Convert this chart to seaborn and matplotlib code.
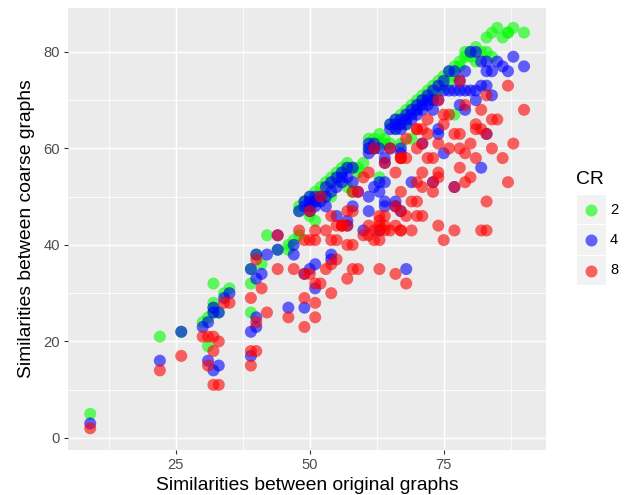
import matplotlib
matplotlib.use("Agg")
import matplotlib.pyplot as plt
from matplotlib.lines import Line2D
from matplotlib.patches import Rectangle
from matplotlib.ticker import FixedLocator
import pandas as pd
import seaborn as sns

cr_levels = ["2", "4", "8"]
palette = ["#00FF00", "#0000FF", "#FF0000"]

green_pts = [(9,5),(22,21),(26,22),(30,24),(31,25),(31,19),(32,32),(32,28),(32,27),(32,26),(33,26),(34,30),(35,31),(39,35),(39,32),(39,26),
 (40,38),(41,36),(42,42),(44,39),(46,39),(46,40),(47,41),(48,48),(48,42),(48,47),(49,49),(50,50),(50,46),(50,48),(51,51),(51,45),(51,49),(52,52),(52,50),(53,53),(53,50),
 (54,54),(54,50),(55,55),(55,53),(56,56),(56,55),(57,57),(57,56),(57,52),(58,56),(58,51),(59,56),(59,55),(60,57),(61,62),(61,60),(62,62),(62,60),(63,63),(63,61),(63,54),
 (64,62),(64,61),(65,65),(65,61),(66,66),(66,64),(67,67),(67,61),(68,68),(68,65),(69,69),(69,62),(70,70),(70,68),(71,71),(71,70),(72,72),(72,70),(73,73),(73,71),(74,74),(74,72),(75,75),(75,73),
 (76,76),(76,74),(77,77),(77,67),(77,75),(78,78),(78,77),(79,79),(79,80),(80,80),(80,79),(81,81),(81,78),(82,80),(83,83),(83,80),(84,84),(84,79),(85,85),(86,83),(87,84),(87,84),(88,85),(90,84)]

blue_pts = [(9,3),(22,16),(26,22),(30,23),(31,24),(31,16),(32,27),(32,26),(32,14),(33,26),(33,15),(34,29),(35,30),(39,35),(39,22),(39,17),(40,38),(40,33),(40,25),(40,23),(41,34),(42,38),(44,39),(44,42),(46,27),(47,40),(47,38),
 (48,47),(49,48),(49,49),(49,34),(49,27),(50,49),(50,50),(50,48),(50,35),(50,47),(51,50),(51,49),(51,48),(51,36),(51,31),(52,50),(52,49),(53,52),(53,50),(53,48),(54,53),(54,51),(54,38),(54,37),(55,54),(55,52),(55,46),
 (56,55),(56,54),(56,53),(57,56),(57,54),(57,45),(57,44),(58,56),(58,53),(58,48),(59,51),(60,43),(61,61),(61,60),(61,59),(61,50),(61,47),(62,52),(62,61),(62,60),(63,60),(63,53),(63,51),(63,43),(64,58),(64,57),(64,49),(64,48),(64,53),
 (65,65),(65,64),(65,60),(66,66),(66,65),(66,64),(66,49),(66,48),(67,66),(67,65),(67,64),(67,60),(67,59),(67,47),(68,67),(68,66),(68,65),(68,35),(69,68),(69,67),(69,66),(69,53),(70,69),(70,68),(70,67),(71,70),(71,69),(71,68),(71,61),(72,71),(72,70),(72,69),(73,72),(73,70),(73,68),(73,53),
 (74,73),(74,70),(74,64),(74,63),(75,59),(75,72),(75,74),(76,76),(76,72),(77,76),(77,72),(77,52),(78,74),(78,72),(78,69),(79,76),(79,72),(79,68),(80,80),(80,72),(81,80),(81,72),(81,70),(82,78),(82,73),(82,56),
 (83,78),(83,76),(83,73),(83,63),(84,76),(84,71),(85,78),(86,77),(87,76),(88,79),(90,77)]

red_pts = [(9,2),(22,14),(26,17),(30,21),(31,21),(31,15),(32,21),(32,18),(32,11),(33,20),(33,11),(34,28),(35,28),(39,29),(39,18),(39,15),(40,37),(40,24),(40,18),(41,31),(42,26),(44,35),(44,42),(46,25),(47,35),(48,43),
 (49,41),(49,34),(49,29),(49,23),(50,47),(50,41),(50,34),(51,43),(51,41),(51,32),(51,28),(51,25),(52,50),(52,32),(53,43),(53,35),(54,46),(54,41),(54,36),(54,30),(55,44),(55,41),(55,37),(56,44),(56,44),(56,44),(57,47),(57,44),(57,40),(57,33),
 (58,51),(58,47),(58,40),(58,35),(59,51),(59,35),(60,54),(60,42),(61,55),(61,44),(61,42),(62,60),(62,43),(62,41),(63,46),(63,45),(63,44),(63,43),(63,41),(63,35),(64,57),(64,46),(64,44),(64,43),(65,60),(65,43),
 (66,55),(66,48),(66,44),(66,34),(67,58),(67,58),(67,58),(67,51),(67,47),(67,43),(67,43),(68,62),(68,58),(68,46),(68,32),(69,49),(69,43),(70,64),(70,64),(70,60),(70,53),(70,49),(70,46),(71,64),(71,61),(71,55),(71,52),(71,46),
 (72,66),(72,63),(72,58),(73,58),(73,53),(73,51),(74,70),(74,61),(74,55),(74,54),(74,44),(75,67),(75,65),(75,41),(76,67),(76,60),(77,63),(77,52),(77,43),(78,74),(78,63),(78,60),(78,56),(79,69),(79,59),(79,53),(80,61),(80,54),
 (81,65),(81,64),(81,58),(82,68),(82,64),(82,43),(83,71),(83,63),(83,49),(83,43),(84,66),(84,60),(85,66),(86,58),(87,73),(87,53),(88,61),(90,68)]

x_label = "Similarities between original graphs"
y_label = "Similarities between coarse graphs"
x_ticks = [25, 50, 75]
y_ticks = [0, 20, 40, 60, 80]
x_minor = [12.5, 37.5, 62.5, 87.5]
y_minor = [10, 30, 50, 70]

frames = []
for level, pts in zip(cr_levels, [green_pts, blue_pts, red_pts]):
    frames.append(pd.DataFrame(pts, columns=["orig", "coarse"]).assign(CR=level))
df = pd.concat(frames, ignore_index=True)

W, H = 633, 495
L, R, T, B = 68, 546, 8, 450
plt.rcParams["font.family"] = ["Liberation Sans", "DejaVu Sans"]
fig = plt.figure(figsize=(W / 100, H / 100), dpi=100, facecolor="white")
ax = fig.add_axes([L / W, 1 - B / H, (R - L) / W, (B - T) / H], facecolor="#EBEBEB")

sns.scatterplot(data=df, x="orig", y="coarse", hue="CR", hue_order=cr_levels, palette=palette,
                s=75, alpha=0.6, linewidth=0, legend=False, ax=ax, zorder=3)

ax.set_xlim(4.85, 94.1)
ax.set_ylim(-2.5, 89.1)
ax.xaxis.set_major_locator(FixedLocator(x_ticks))
ax.yaxis.set_major_locator(FixedLocator(y_ticks))
ax.xaxis.set_minor_locator(FixedLocator(x_minor))
ax.yaxis.set_minor_locator(FixedLocator(y_minor))
ax.grid(True, which="major", color="white", linewidth=1.05, zorder=1)
ax.grid(True, which="minor", color="white", linewidth=0.55, zorder=1)
ax.set_axisbelow(True)
for s in ax.spines.values():
    s.set_visible(False)
ax.tick_params(which="major", length=3.2, width=0.8, color="#333333", labelcolor="#4D4D4D", labelsize=10.6, pad=2.5)
ax.tick_params(which="minor", length=0)
ax.set_xlabel(x_label, fontsize=13.9, color="black", labelpad=4)
ax.set_ylabel(y_label, fontsize=13.9, color="black", labelpad=6)

# legend
fig.text(576 / W, 1 - 179 / H, "CR", fontsize=13.9, color="black", ha="left", va="center")
key_tops = [195, 225.5, 256]
for level, col, top in zip(cr_levels, palette, key_tops):
    fig.patches.append(Rectangle((577 / W, 1 - (top + 29) / H), 28.5 / W, 29 / H, transform=fig.transFigure,
                                 facecolor="#F2F2F2", edgecolor="none", figure=fig))
    fig.add_artist(Line2D([591 / W], [1 - (top + 14.5) / H], transform=fig.transFigure, marker="o", markersize=8.64,
                          markerfacecolor=col, markeredgewidth=0, alpha=0.6, linestyle="none"))
    fig.text(610 / W, 1 - (top + 14.5) / H, level, fontsize=10.6, color="black", ha="left", va="center")

fig.savefig("out.png", dpi=100)
